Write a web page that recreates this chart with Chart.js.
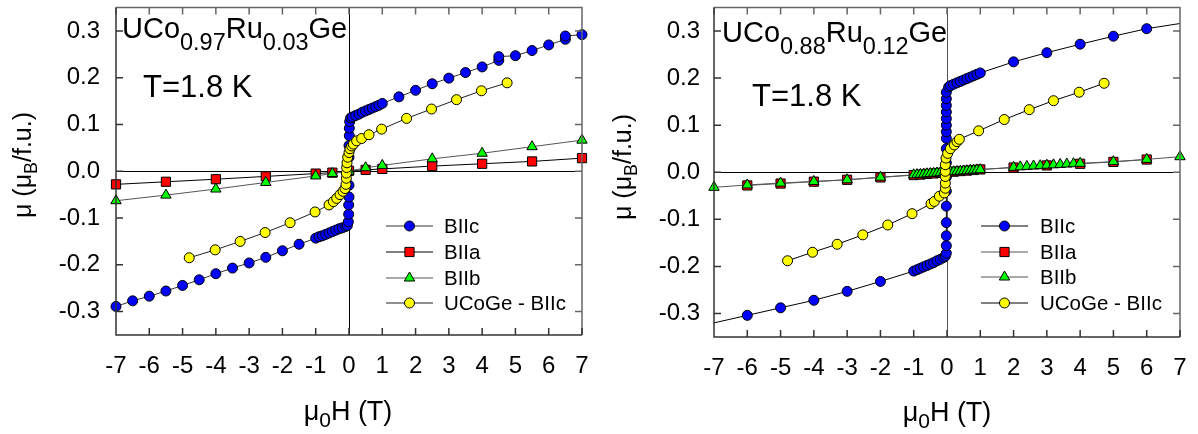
<!DOCTYPE html>
<html>
<head>
<meta charset="utf-8">
<script src="https://cdn.jsdelivr.net/npm/chart.js@4.4.1/dist/chart.umd.min.js"></script>
<style>
  body { margin: 0; background: #fff; width: 1198px; height: 434px; overflow: hidden; position: relative; }
  canvas { position: absolute; top: 0; }
  #cA { left: 0; }
  #cB { left: 600px; }
</style>
</head>
<body>
<canvas id="cA" width="600" height="434"></canvas>
<canvas id="cB" width="598" height="434"></canvas>
<script>
// axis ticks
const xTicks = [-7, -6, -5, -4, -3, -2, -1, 0, 1, 2, 3, 4, 5, 6, 7];
const yTicks = [-0.3, -0.2, -0.1, 0.0, 0.1, 0.2, 0.3];
const seriesNames = ['BIIc', 'BIIa', 'BIIb', 'UCoGe - BIIc'];

// UCo0.97Ru0.03Ge, field (T) and moment (muB/f.u.)
const aH_c = [-7, -6.5, -6, -5.5, -5, -4.5, -4, -3.5, -3, -2.5, -2, -1.5,
  -1, -0.9, -0.8, -0.7, -0.6, -0.5, -0.4, -0.3, -0.2, -0.1, -0.05,
  -0.02, -0.01, -0.01, 0, 0, 0, 0, 0, 0.01, 0.01, 0.02,
  0.05, 0.1, 0.2, 0.3, 0.4, 0.5, 0.6, 0.7, 0.8, 0.9, 1,
  1.5, 2, 2.5, 3, 3.5, 4, 4.5, 4.5, 5, 5.5, 6, 6.5, 6.5, 7];
const aMu_c = [-0.289, -0.277, -0.267, -0.256, -0.244, -0.232, -0.219, -0.207, -0.196, -0.184, -0.170, -0.156,
  -0.143, -0.140, -0.138, -0.135, -0.132, -0.129, -0.126, -0.123, -0.121, -0.118, -0.116,
  -0.108, -0.092, -0.072, -0.055, -0.030, 0.000, 0.030, 0.055, 0.076, 0.092, 0.106,
  0.114, 0.116, 0.119, 0.122, 0.126, 0.129, 0.132, 0.135, 0.138, 0.141, 0.145,
  0.159, 0.173, 0.187, 0.199, 0.211, 0.223, 0.237, 0.245, 0.247, 0.258, 0.270, 0.282, 0.289, 0.292];
const aH_a = [-7, -5.5, -4, -2.5, -1, -0.5, 0, 0.5, 1, 2.5, 4, 5.5, 7];
const aMu_a = [-0.028, -0.0225, -0.017, -0.011, -0.005, -0.003, 0.001, 0.003, 0.005, 0.011, 0.016, 0.021, 0.028];
const aH_b = [-7, -5.5, -4, -2.5, -1, -0.5, 0, 0.5, 1, 2.5, 4, 5.5, 7];
const aMu_b = [-0.063, -0.051, -0.038, -0.024, -0.010, -0.005, 0.000, 0.0075, 0.0125, 0.0265, 0.0385, 0.0525, 0.0665];
const aH_u = [-4.8, -4.02, -3.27, -2.52, -1.77, -1.02,
  -0.6, -0.47, -0.37, -0.27, -0.18, -0.12, -0.09, -0.08, -0.08, -0.07, -0.06, -0.04, 0, 0.03, 0.08, 0.13, 0.23, 0.38, 0.6,
  0.98, 1.73, 2.48, 3.23, 3.98, 4.75];
const aMu_u = [-0.185, -0.168, -0.150, -0.131, -0.110, -0.087,
  -0.072, -0.065, -0.058, -0.050, -0.043, -0.037, -0.028, -0.015, -0.004, 0.008, 0.018, 0.030, 0.040, 0.048, 0.054, 0.058, 0.065, 0.070, 0.078,
  0.090, 0.113, 0.133, 0.153, 0.172, 0.189];

// UCo0.88Ru0.12Ge
const bH_c = [-6, -5, -4, -3, -2,
  -1, -0.9, -0.8, -0.7, -0.6, -0.5, -0.4, -0.3, -0.2, -0.1, -0.05,
  -0.02, -0.02, -0.02, -0.02, -0.02, -0.02, -0.02, -0.02, -0.02, -0.02, -0.02, -0.02, -0.02, -0.02, -0.02, -0.02, -0.02,
  0.05, 0.1, 0.2, 0.3, 0.4, 0.5, 0.6, 0.7, 0.8, 0.9, 1,
  2, 3, 4, 5, 6];
const bMu_c = [-0.304, -0.288, -0.272, -0.253, -0.232,
  -0.210, -0.207, -0.204, -0.201, -0.198, -0.195, -0.192, -0.188, -0.185, -0.181, -0.178,
  -0.172, -0.156, -0.135, -0.107, -0.072, -0.040, -0.010, 0.020, 0.050, 0.072, 0.086, 0.100, 0.114, 0.128, 0.142, 0.156, 0.170,
  0.181, 0.184, 0.187, 0.190, 0.193, 0.196, 0.199, 0.202, 0.205, 0.208, 0.211,
  0.2345, 0.254, 0.272, 0.289, 0.305];
const bFitH_c = [-7, 7];
const bFitMu_c = [-0.320, 0.316];
const bH_a = [-6, -5, -4, -3, -2, -1, -0.8, -0.6, -0.4, -0.2, 0, 0.2, 0.4, 0.6, 0.8, 1, 2, 3, 4, 5, 6];
const bMu_a = [-0.028, -0.024, -0.020, -0.016, -0.011, -0.006, -0.005, -0.0035, -0.0025, -0.0012, 0, 0.0012, 0.0025, 0.0035, 0.0048, 0.006, 0.010, 0.0145, 0.018, 0.022, 0.027];
const bH_b = [-7, -6, -5, -4, -3, -2, -1, -0.9, -0.8, -0.7, -0.6, -0.5, -0.4, -0.3, -0.2, -0.1, 0,
  0.1, 0.2, 0.3, 0.4, 0.5, 0.6, 0.7, 0.8, 0.9, 1,
  2, 2.2, 2.4, 2.6, 2.8, 3, 3.2, 3.4, 3.6, 3.8, 4, 5, 6, 7];
const bMu_b = [-0.032, -0.027, -0.023, -0.0195, -0.016, -0.0105, -0.0055, -0.005, -0.0045, -0.004, -0.0033, -0.0028, -0.0022, -0.0017, -0.001, -0.0005, 0,
  0.0006, 0.0011, 0.0017, 0.0022, 0.0028, 0.0033, 0.0039, 0.0044, 0.005, 0.0055,
  0.0105, 0.0115, 0.0124, 0.0132, 0.014, 0.015, 0.0158, 0.0166, 0.0174, 0.0182, 0.019, 0.0225, 0.0274, 0.033];
const bH_u = [-4.79, -4.04, -3.3, -2.53, -1.78, -1.05,
  -0.48, -0.38, -0.23, -0.08, -0.05, -0.05, -0.05, -0.05, -0.05, -0.03, 0.02, 0.1, 0.22, 0.3, 0.37,
  0.95, 1.72, 2.47, 3.2, 3.97, 4.72];
const bMu_u = [-0.188, -0.170, -0.153, -0.133, -0.112, -0.088,
  -0.067, -0.062, -0.051, -0.044, -0.034, -0.023, -0.009, 0.002, 0.016, 0.030, 0.040, 0.050, 0.058, 0.065, 0.070,
  0.088, 0.112, 0.133, 0.152, 0.170, 0.189];

const FONT = "'Liberation Sans', Arial, sans-serif";
Chart.defaults.font.family = FONT;

// page layout of each panel (canvas px)
const panels = {
  cA: {
    pad: { top: 3, right: 18 }, yw: 116, xh: 99, ypad: 16,
    zeroX: '#000',
    title: { x: 122, y: 38, parts: [['UCo', 29, 0], ['0.97', 23.5, 12], ['Ru', 29, 0], ['0.03', 23.5, 12], ['Ge', 29, 0]] },
    temp: { x: 143, y: 97 },
    yTitle: { x: 31, y: 165 },
    xTitle: { x: 348, y: 420 },
    legend: { x0: 386, x1: 433, tx: 444, rows: [226, 252, 278, 303] }
  },
  cB: {
    pad: { top: 5, right: 18 }, yw: 114, xh: 97, ypad: 14,
    zeroX: '#555',
    title: { x: 122, y: 42, parts: [['UCo', 29, 0], ['0.88', 23.5, 12], ['Ru', 29, 0], ['0.12', 23.5, 12], ['Ge', 29, 0]] },
    temp: { x: 152, y: 106 },
    yTitle: { x: 31, y: 167 },
    xTitle: { x: 347, y: 421 },
    legend: { x0: 381, x1: 428, tx: 440, rows: [226, 252, 277, 303] }
  }
};

function drawRuns(ctx, x, y, parts) {
  for (const [t, size, dy] of parts) {
    ctx.font = size + 'px ' + FONT;
    ctx.fillText(t, x, y + dy);
    x += ctx.measureText(t).width;
  }
}
function runsWidth(ctx, parts) {
  let w = 0;
  for (const [t, size] of parts) { ctx.font = size + 'px ' + FONT; w += ctx.measureText(t).width; }
  return w;
}
function marker(ctx, style, x, y, r, fill) {
  ctx.beginPath();
  if (style === 'circle') {
    ctx.arc(x, y, r, 0, Math.PI * 2);
  } else if (style === 'rect') {
    const s = r * Math.SQRT1_2;
    ctx.rect(x - s, y - s, 2 * s, 2 * s);
  } else {
    ctx.moveTo(x, y - r);
    ctx.lineTo(x + r * 0.866, y + r * 0.5);
    ctx.lineTo(x - r * 0.866, y + r * 0.5);
    ctx.closePath();
  }
  ctx.fillStyle = fill; ctx.fill();
  ctx.lineWidth = 1; ctx.strokeStyle = '#000'; ctx.stroke();
}

const framePlugin = {
  id: 'frame',
  beforeDatasetsDraw(chart) {
    const p = panels[chart.canvas.id];
    const { ctx, chartArea: a, scales: { x, y } } = chart;
    const x0 = Math.round(x.getPixelForValue(0)) + 0.5;
    const y0 = Math.round(y.getPixelForValue(0)) + 0.5;
    ctx.save();
    ctx.lineWidth = 1;
    ctx.strokeStyle = '#000';
    ctx.beginPath(); ctx.moveTo(a.left, y0); ctx.lineTo(a.right, y0); ctx.stroke();
    ctx.strokeStyle = p.zeroX;
    ctx.beginPath(); ctx.moveTo(x0, a.top); ctx.lineTo(x0, a.bottom); ctx.stroke();
    ctx.restore();
  },
  afterDraw(chart) {
    const p = panels[chart.canvas.id];
    const { ctx, chartArea: a, scales: { x, y } } = chart;
    ctx.save();
    // frame and inward ticks on all four sides
    const tl = 7;
    ctx.lineWidth = 1.5;
    ctx.strokeStyle = '#666';
    ctx.beginPath();
    ctx.moveTo(a.left, a.top); ctx.lineTo(a.right, a.top); ctx.lineTo(a.right, a.bottom);
    for (const v of xTicks) { const px = x.getPixelForValue(v); ctx.moveTo(px, a.top); ctx.lineTo(px, a.top + tl); }
    for (const v of yTicks) { const py = y.getPixelForValue(v); ctx.moveTo(a.right, py); ctx.lineTo(a.right - tl, py); }
    ctx.stroke();
    ctx.strokeStyle = '#333';
    ctx.beginPath();
    ctx.moveTo(a.left, a.top); ctx.lineTo(a.left, a.bottom); ctx.lineTo(a.right, a.bottom);
    for (const v of xTicks) { const px = x.getPixelForValue(v); ctx.moveTo(px, a.bottom); ctx.lineTo(px, a.bottom - tl); }
    for (const v of yTicks) { const py = y.getPixelForValue(v); ctx.moveTo(a.left, py); ctx.lineTo(a.left + tl, py); }
    ctx.stroke();

    ctx.fillStyle = '#000';
    ctx.textBaseline = 'alphabetic';
    ctx.textAlign = 'left';
    drawRuns(ctx, p.title.x, p.title.y, p.title.parts);
    drawRuns(ctx, p.temp.x, p.temp.y, [['T=1.8 K', 31, 0]]);

    // axis titles
    const xt = [['\u03bc', 27, 0], ['0', 21, 7], ['H (T)', 27, 0]];
    drawRuns(ctx, p.xTitle.x - runsWidth(ctx, xt) / 2, p.xTitle.y, xt);
    const yt = [['\u03bc (\u03bc', 25, 0], ['B', 18, 6], ['/f.u.)', 25, 0]];
    ctx.save();
    ctx.translate(p.yTitle.x, p.yTitle.y);
    ctx.rotate(-Math.PI / 2);
    drawRuns(ctx, -runsWidth(ctx, yt) / 2, 0, yt);
    ctx.restore();

    // legend
    const L = p.legend;
    chart.data.datasets.slice().reverse().forEach((d, i) => {
      const ry = L.rows[i];
      ctx.strokeStyle = d.borderColor; ctx.lineWidth = 1.2;
      ctx.beginPath(); ctx.moveTo(L.x0, ry); ctx.lineTo(L.x1, ry); ctx.stroke();
      marker(ctx, d.pointStyle, (L.x0 + L.x1) / 2, ry, d.legendR, d.pointBackgroundColor);
      ctx.fillStyle = '#000';
      ctx.font = '20.5px ' + FONT;
      ctx.textBaseline = 'middle';
      ctx.fillText(d.label, L.tx, ry + 1);
    });
    ctx.restore();
  }
};

function pts(H, mu, fitH, fitMu) {
  const out = H.map((h, i) => ({ x: h, y: mu[i] }));
  if (fitH) {
    out.unshift({ x: fitH[0], y: fitMu[0], fit: true });
    out.push({ x: fitH[1], y: fitMu[1], fit: true });
  }
  return out;
}
function series(label, data, style, fill, r, line) {
  return {
    label, data, showLine: true, borderColor: line, borderWidth: 1,
    pointStyle: style, pointBackgroundColor: fill, pointBorderColor: '#000', pointBorderWidth: 1,
    pointRadius: c => (c.raw && c.raw.fit ? 0 : r), legendR: r,
    clip: false, tension: 0
  };
}
// no label-overflow padding: the plot box is placed by layout.padding and afterFit only
function noPad(s) { s.paddingLeft = 0; s.paddingRight = 0; s.paddingTop = 0; s.paddingBottom = 0; }

function makeChart(id, sets) {
  const p = panels[id];
  new Chart(document.getElementById(id), {
    type: 'scatter',
    data: { datasets: sets },
    options: {
      responsive: false, animation: false, devicePixelRatio: 1, events: [],
      layout: { padding: { left: 0, top: p.pad.top, right: p.pad.right, bottom: 0 } },
      plugins: { legend: { display: false }, tooltip: { enabled: false } },
      scales: {
        x: {
          type: 'linear', min: -7, max: 7,
          afterBuildTicks: s => { s.ticks = xTicks.map(v => ({ value: v })); },
          afterFit: s => { s.height = p.xh; noPad(s); },
          grid: { display: false, drawTicks: false }, border: { display: false },
          ticks: { padding: 17, autoSkip: false, maxRotation: 0, color: '#000', font: { size: 24 }, callback: v => String(v) }
        },
        y: {
          type: 'linear', min: -0.35, max: 0.35,
          afterBuildTicks: s => { s.ticks = yTicks.map(v => ({ value: v })); },
          afterFit: s => { s.width = p.yw; noPad(s); },
          grid: { display: false, drawTicks: false }, border: { display: false },
          ticks: { padding: p.ypad, autoSkip: false, color: '#000', font: { size: 24 }, callback: v => v.toFixed(1) }
        }
      }
    },
    plugins: [framePlugin]
  });
}

// drawn last = on top: yellow, green, red, blue
makeChart('cA', [
  series(seriesNames[3], pts(aH_u, aMu_u), 'circle', '#ffff00', 5, '#222'),
  series(seriesNames[2], pts(aH_b, aMu_b), 'triangle', '#00ff00', 6, '#555'),
  series(seriesNames[1], pts(aH_a, aMu_a), 'rect', '#ff0000', 6.5, '#000'),
  series(seriesNames[0], pts(aH_c, aMu_c), 'circle', '#0000ff', 5, '#333')
]);
makeChart('cB', [
  series(seriesNames[3], pts(bH_u, bMu_u), 'circle', '#ffff00', 5, '#000'),
  series(seriesNames[2], pts(bH_b, bMu_b), 'triangle', '#00ff00', 6, '#555'),
  series(seriesNames[1], pts(bH_a, bMu_a), 'rect', '#ff0000', 6.5, '#555'),
  series(seriesNames[0], pts(bH_c, bMu_c, bFitH_c, bFitMu_c), 'circle', '#0000ff', 5, '#000')
]);
</script>
</body>
</html>
